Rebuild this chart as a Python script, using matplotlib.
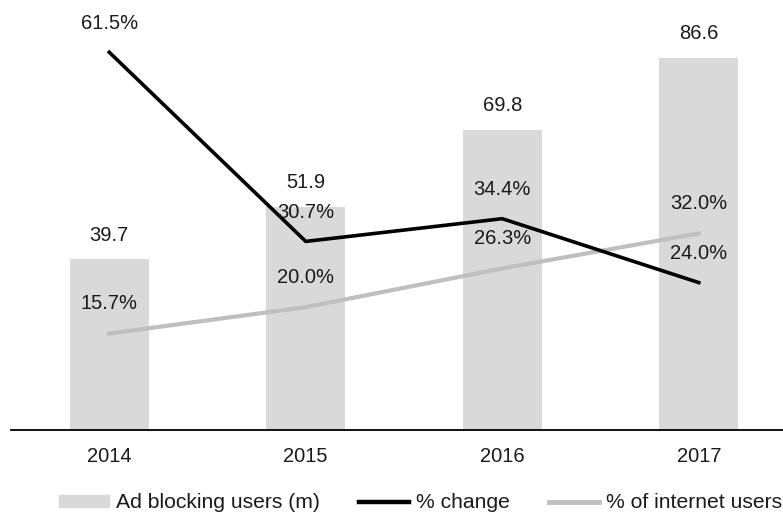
import matplotlib.pyplot as plt
from matplotlib.patches import Patch
from matplotlib.lines import Line2D

plt.rcParams['font.family'] = ['Liberation Sans', 'DejaVu Sans']

years = ['2014', '2015', '2016', '2017']
users = [39.7, 51.9, 69.8, 86.6]
pct_change = [61.5, 30.7, 34.4, 24.0]
pct_internet = [15.7, 20.0, 26.3, 32.0]

bar_col = '#d9d9d9'
grey_col = '#bfbfbf'
txt_col = '#1a1a1a'
fs = 14.5

fig = plt.figure(figsize=(7.83, 5.16), dpi=100)
ax = fig.add_axes([11 / 783, 1 - 430 / 516, 786 / 783, 430 / 516])
x = range(len(years))

ax.bar(x, users, width=0.4, color=bar_col, zorder=1)
ax.set_ylim(0, 100)
ax.set_xlim(-0.5, 3.5)
for i, v in enumerate(users):
    ax.annotate(f"{v:.1f}", (i, v), xytext=(0, 24), textcoords='offset pixels',
                ha='center', va='center', fontsize=fs, color=txt_col)

ax2 = ax.twinx()
ax2.set_ylim(0, 70)
ax2.plot(x, pct_internet, color=grey_col, lw=3, zorder=2)
ax2.plot(x, pct_change, color='black', lw=2.6, zorder=3)
for i, v in enumerate(pct_change):
    ax2.annotate(f"{v:.1f}%", (i, v), xytext=(0, 29), textcoords='offset pixels',
                 ha='center', va='center', fontsize=fs, color=txt_col)
for i, v in enumerate(pct_internet):
    ax2.annotate(f"{v:.1f}%", (i, v), xytext=(0, 30), textcoords='offset pixels',
                 ha='center', va='center', fontsize=fs, color=txt_col)

for a in (ax, ax2):
    for s in ['top', 'right', 'left']:
        a.spines[s].set_visible(False)
    a.set_yticks([])
ax2.spines['bottom'].set_visible(False)
ax.spines['bottom'].set_linewidth(1.3)
ax.set_xticks(list(x))
ax.set_xticklabels(years, fontsize=fs, color=txt_col)
ax.tick_params(axis='x', length=0, pad=12)

handles = [Patch(color=bar_col), Line2D([], [], color='black', lw=3.2),
           Line2D([], [], color=grey_col, lw=3.5)]
labels = ['Ad blocking users (m)', '% change', '% of internet users']
fig.legend(handles, labels, loc='center left', bbox_to_anchor=(59 / 783, 1 - 503 / 516),
           ncol=3, frameon=False, fontsize=15.2, handlelength=2.37, handleheight=0.45,
           handletextpad=0.33, columnspacing=1.85, borderaxespad=0, borderpad=0,
           labelcolor=txt_col)

fig.savefig('out.png', dpi=100)
